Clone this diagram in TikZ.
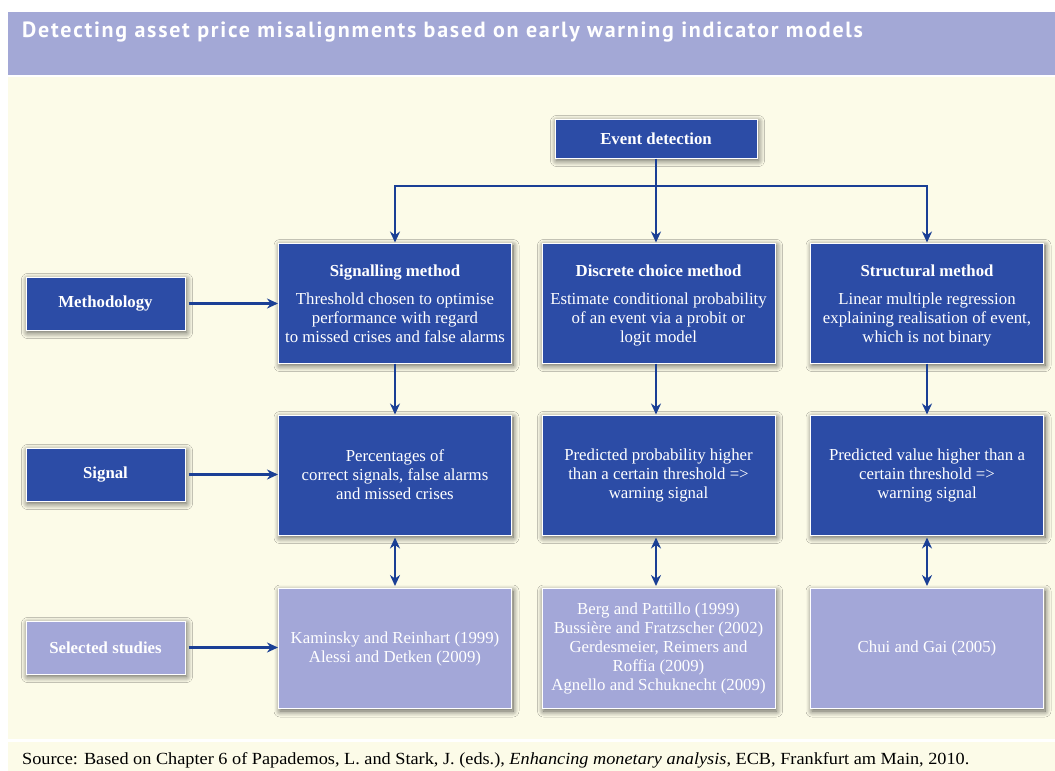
\documentclass[tikz,border=0pt]{standalone}
\usepackage{fontspec}
\setmainfont{Liberation Serif}
\newfontfamily\titlefont[LetterSpace=8]{PT Sans}
\usetikzlibrary{shadows.blur,arrows.meta}
\definecolor{boxblue}{HTML}{2C4CA6}
\definecolor{arrblue}{HTML}{1A3F95}
\definecolor{lightpurple}{HTML}{A3A7D8}
\definecolor{bandcol}{HTML}{A3A8D6}
\definecolor{cream}{HTML}{FCFBE8}
\newcommand{\toprule}{\rule{0pt}{19.3pt}}
\begin{document}
\begin{tikzpicture}[x=1pt,y=-1pt,
  shad/.style={blur shadow={shadow xshift=1.5pt, shadow yshift=-2.5pt, shadow blur steps=10, shadow blur radius=6pt, shadow opacity=65}},
  bluebox/.style={shad, draw=white, line width=1pt, fill=boxblue, text=white, align=center, inner sep=2pt,
    font=\fontsize{16.8}{19}\selectfont},
  purplebox/.style={bluebox, fill=lightpurple},
  bigbox/.style={minimum width=233pt, minimum height=120pt},
  sidebox/.style={minimum width=159pt, minimum height=53pt, font=\fontsize{16.8}{19}\selectfont\bfseries},
  arr/.style={draw=arrblue, line width=2.8pt, -{Stealth[length=11pt,width=10pt]}},
  darr/.style={draw=arrblue, line width=2.8pt, {Stealth[length=11pt,width=10pt]}-{Stealth[length=11pt,width=10pt]}}
]
\useasboundingbox (0,0) rectangle (1055,771);
\fill[white] (0,0) rectangle (1055,771);
\fill[bandcol] (8,12) rectangle (1055,75);
\fill[cream] (8,77) rectangle (1055,739);
\fill[cream] (8,742) rectangle (1055,771);

\node[anchor=base west, text=white, inner sep=0pt, font=\titlefont\bfseries\fontsize{22}{26}\selectfont] (title) at (22,37)
  {Detecting asset price misalignments based on early warning indicator models};

\node[bluebox, minimum width=202pt, minimum height=39pt, font=\fontsize{16.8}{19}\selectfont\bfseries] (ev) at (656,138.5) {Event detection};

\node[bluebox, bigbox] (sig) at (395,303) {\toprule\textbf{Signalling method}\strut\\[9pt]Threshold chosen to optimise\\performance with regard\\to missed crises and false alarms\strut};
\node[bluebox, bigbox] (disc) at (658.5,303) {\toprule\textbf{Discrete choice method}\strut\\[9pt]Estimate conditional probability\\of an event via a probit or\\logit model\strut};
\node[bluebox, bigbox] (struc) at (927,303) {\toprule\textbf{Structural method}\strut\\[9pt]Linear multiple regression\\explaining realisation of event,\\which is not binary\strut};

\node[bluebox, bigbox] (sig2) at (395,475) {Percentages of\\correct signals, false alarms\\and missed crises};
\node[bluebox, bigbox] (disc2) at (658.5,475) {Predicted probability higher\\than a certain threshold =>\\warning signal};
\node[bluebox, bigbox] (struc2) at (927,475) {Predicted value higher than a\\certain threshold =>\\warning signal};

\node[purplebox, bigbox] (sig3) at (395,648.5) {Kaminsky and Reinhart (1999)\\Alessi and Detken (2009)};
\node[purplebox, bigbox] (disc3) at (658.5,648.5) {Berg and Pattillo (1999)\\Bussière and Fratzscher (2002)\\Gerdesmeier, Reimers and\\Roffia (2009)\\Agnello and Schuknecht (2009)};
\node[purplebox, bigbox] (struc3) at (927,648.5) {Chui and Gai (2005)};

\node[bluebox, sidebox] (meth) at (105.5,303.5) {Methodology};
\node[bluebox, sidebox] (signal) at (105.5,474.5) {Signal};
\node[purplebox, sidebox] (stud) at (105.5,647.5) {Selected studies};

\coordinate (hb) at (656,186);
\draw[arr] (ev.south) -- (hb) -- (disc.north -| hb);
\draw[arr] (hb) -| (sig.north);
\draw[arr] (hb) -| (struc.north);

\draw[arr] (sig.south) -- (sig2.north);
\draw[arr] (disc.south -| hb) -- (disc2.north -| hb);
\draw[arr] (struc.south) -- (struc2.north);

\draw[darr] ([yshift=-2pt]sig2.south) -- ([yshift=2pt]sig3.north);
\draw[darr] ([yshift=-2pt]disc2.south -| hb) -- ([yshift=2pt]disc3.north -| hb);
\draw[darr] ([yshift=-2pt]struc2.south) -- ([yshift=2pt]struc3.north);

\draw[arr] ([xshift=3pt]meth.east) -- (meth.east -| sig.west);
\draw[arr] ([xshift=3pt]signal.east) -- (signal.east -| sig2.west);
\draw[arr] ([xshift=3pt]stud.east) -- (stud.east -| sig3.west);

\node[anchor=base west, inner sep=0pt, font=\fontsize{17}{20}\selectfont] (src) at (22,764)
  {\scalebox{1.074}[1]{Source: Based on Chapter 6 of Papademos, L. and Stark, J. (eds.), \textit{Enhancing monetary analysis}, ECB, Frankfurt am Main, 2010.}};
\end{tikzpicture}
\end{document}
